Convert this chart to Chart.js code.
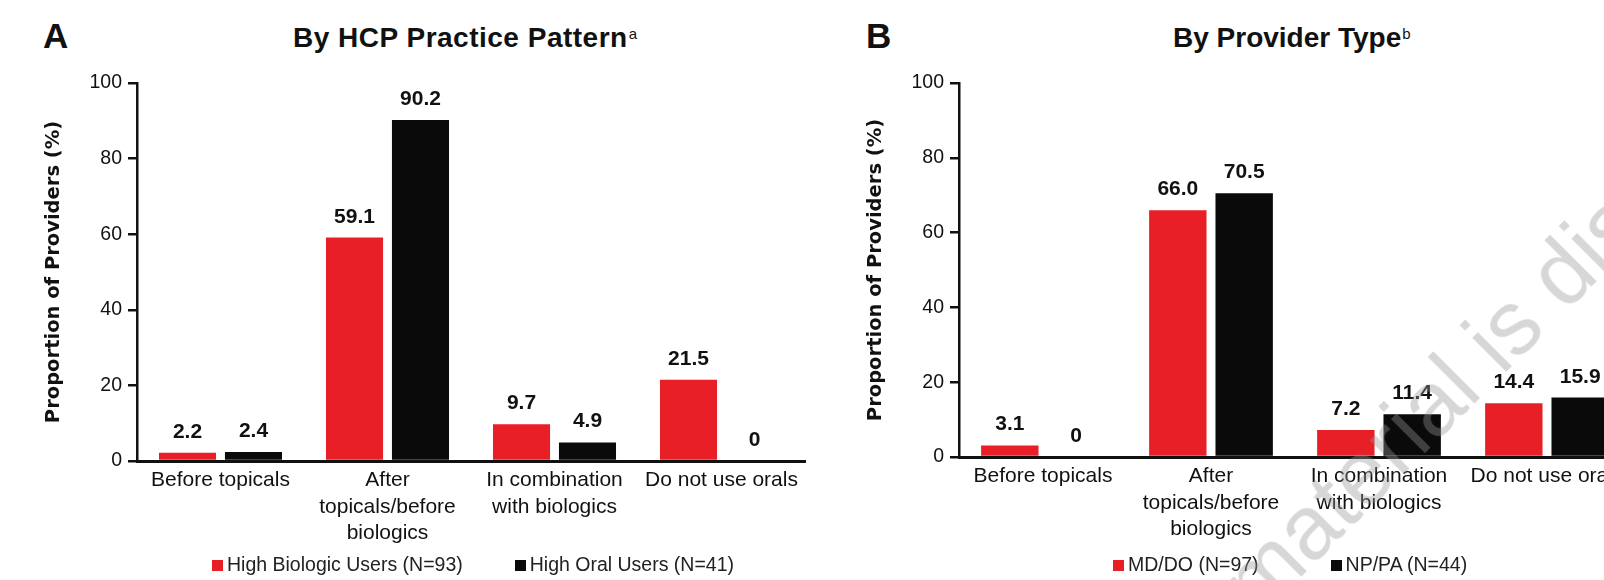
<!DOCTYPE html>
<html>
<head>
<meta charset="utf-8">
<script src="https://cdn.jsdelivr.net/npm/chart.js@4.4.1/dist/chart.umd.min.js"></script>
<style>
  html, body { margin: 0; padding: 0; background: #fff; }
  body {
    width: 1604px; height: 580px; position: relative; overflow: hidden;
    font-family: "Liberation Sans", Arial, sans-serif; color: #111;
  }
  canvas { position: absolute; top: 0; }
  #chartA { left: 0; }
  #chartB { left: 822px; }
  .panel-letter { position: absolute; top: 18px; font-size: 35px; line-height: 35px; font-weight: bold; }
  .panel-title { position: absolute; top: 24px; font-size: 28px; line-height: 28px; font-weight: bold; white-space: nowrap; }
  .panel-title span { position: relative; top: -8px; font-size: 15px; font-weight: normal; margin-left: 1px; }
  .legend { position: absolute; top: 554px; font-size: 19.5px; line-height: 20px; white-space: nowrap; color: #222; }
  .legend i { display: inline-block; width: 11px; height: 11px; margin-right: 4px; }
  .watermark {
    position: absolute; left: 1258px; top: 544px;
    font-size: 90px; line-height: 90px; white-space: nowrap;
    color: rgba(150, 150, 150, 0.38);
    transform-origin: 0 76px; transform: rotate(-45deg);
    pointer-events: none;
  }
</style>
</head>
<body>
<div class="panel-letter" style="left:43px">A</div>
<div class="panel-title" style="left:293px; letter-spacing:0.5px">By HCP Practice Pattern<span>a</span></div>
<canvas id="chartA" width="812" height="580"></canvas>
<div class="legend" id="legendA" style="left:212px"></div>

<div class="panel-letter" style="left:866px">B</div>
<div class="panel-title" style="left:1173px">By Provider Type<span>b</span></div>
<canvas id="chartB" width="816" height="580"></canvas>
<div class="legend" id="legendB" style="left:1113px"></div>

<div class="watermark">material is dis</div>

<script>
// 数据
const categories = [
  ['Before topicals'],
  ['After', 'topicals/before', 'biologics'],
  ['In combination', 'with biologics'],
  ['Do not use orals']
];
const yTicks = [0, 20, 40, 60, 80, 100];

// A: 按执业模式
const biologicUsers = [2.2, 59.1, 9.7, 21.5];
const oralUsers = [2.4, 90.2, 4.9, 0];
const seriesNamesA = ['High Biologic Users (N=93)', 'High Oral Users (N=41)'];

// B: 按提供者类型
const mdDo = [3.1, 66.0, 7.2, 14.4];
const npPa = [0, 70.5, 11.4, 15.9];
const seriesNamesB = ['MD/DO (N=97)', 'NP/PA (N=44)'];

const RED = '#e81f27';
const BLACK = '#0a0a0a';

// 柱顶数值
const barLabels = {
  id: 'barLabels',
  afterDatasetsDraw(chart) {
    const ctx = chart.ctx;
    ctx.save();
    ctx.font = 'bold 21px "Liberation Sans", Arial, sans-serif';
    ctx.fillStyle = '#111';
    ctx.textAlign = 'center';
    ctx.textBaseline = 'alphabetic';
    chart.data.datasets.forEach((ds, i) => {
      chart.getDatasetMeta(i).data.forEach((bar, j) => {
        const v = ds.data[j];
        ctx.fillText(v === 0 ? '0' : v.toFixed(1), bar.x, bar.y - 15);
      });
    });
    ctx.restore();
  }
};

// 画一个面板
function drawPanel(canvasId, firstSeries, secondSeries, names, xHeight) {
  return new Chart(document.getElementById(canvasId), {
    type: 'bar',
    data: {
      labels: categories,
      datasets: [
        { label: names[0], data: firstSeries, backgroundColor: RED },
        { label: names[1], data: secondSeries, backgroundColor: BLACK }
      ]
    },
    options: {
      responsive: false,
      animation: false,
      devicePixelRatio: 1,
      layout: { padding: { left: 37, top: 83, right: 7, bottom: 0 } },
      datasets: { bar: { categoryPercentage: 0.79, barPercentage: 0.865 } },
      plugins: {
        legend: { display: false },
        title: { display: false },
        tooltip: { enabled: false }
      },
      scales: {
        x: {
          grid: { display: false, drawTicks: false, tickLength: 0 },
          border: { display: true, color: '#111', width: 3 },
          ticks: {
            color: '#111',
            padding: 6,
            maxRotation: 0,
            autoSkip: false,
            font: { family: '"Liberation Sans", Arial, sans-serif', size: 21, lineHeight: 1.27 }
          },
          afterFit(scale) { scale.height = xHeight; }
        },
        y: {
          min: 0,
          max: 100,
          afterBuildTicks(scale) { scale.ticks = yTicks.map(v => ({ value: v })); },
          grid: { drawOnChartArea: false, drawTicks: true, tickLength: 9, color: '#111', lineWidth: 2.5 },
          border: { display: true, color: '#111', width: 2.5 },
          ticks: {
            color: '#111',
            padding: 6,
            font: { family: '"Liberation Sans", Arial, sans-serif', size: 19.5 }
          },
          title: {
            display: true,
            text: 'Proportion of Providers (%)',
            color: '#111',
            padding: { top: 5, bottom: 4 },
            font: { family: '"DejaVu Sans", sans-serif', size: 19.5, weight: 'bold' }
          },
          afterFit(scale) { scale.width = 100; }
        }
      }
    },
    plugins: [barLabels]
  });
}

// 图例
function buildLegend(chart, el, gap) {
  el.innerHTML = chart.data.datasets.map((ds, i) =>
    `<span style="margin-left:${i ? gap : 0}px"><i style="background:${ds.backgroundColor}"></i>${ds.label}</span>`
  ).join('');
}

const chartA = drawPanel('chartA', biologicUsers, oralUsers, seriesNamesA, 119);
const chartB = drawPanel('chartB', mdDo, npPa, seriesNamesB, 123);
buildLegend(chartA, document.getElementById('legendA'), 52);
buildLegend(chartB, document.getElementById('legendB'), 72);
</script>
</body>
</html>
